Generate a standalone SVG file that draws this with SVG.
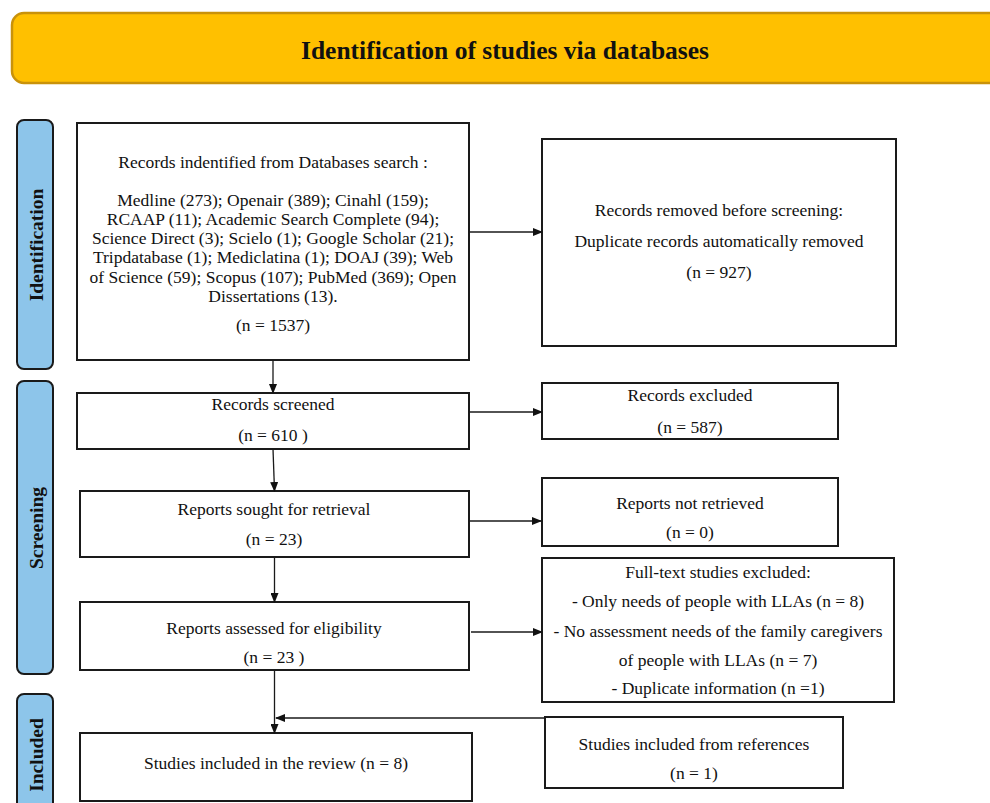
<svg xmlns="http://www.w3.org/2000/svg" width="990" height="803" viewBox="0 0 990 803">
<style>
.box{fill:#fff;stroke:#1a1a1a;stroke-width:2}
.side{fill:#8DC5EA;stroke:#1a1a1a;stroke-width:2}
.t{font-family:"Liberation Serif","Times New Roman",serif;font-size:17.5px;fill:#111;text-anchor:middle;dominant-baseline:central}
.st{font-family:"Liberation Serif","Times New Roman",serif;font-size:19.5px;font-weight:bold;fill:#111;text-anchor:middle;dominant-baseline:central}
.ln{stroke:#1a1a1a;stroke-width:1.3;fill:none}
</style>
<defs>
<marker id="ah" markerWidth="10" markerHeight="8" refX="9" refY="4" orient="auto" markerUnits="userSpaceOnUse">
<path d="M0,0 L10,4 L0,8 Z" fill="#111"/>
</marker>
</defs>
<rect width="990" height="803" fill="#fff"/>
<g id="header">
<rect x="12" y="13" width="1000" height="70" rx="12" fill="#FFC000" stroke="#C9920A" stroke-width="2.5"/>
<text x="505" y="50" class="t" style="font-size:25.5px;font-weight:bold">Identification of studies via databases</text>
</g>
<g id="side-identification">
<rect x="17" y="120" width="36" height="249" rx="7" class="side"/>
<text class="st" transform="translate(36,245) rotate(-90)">Identification</text>
</g>
<g id="side-screening">
<rect x="17" y="381" width="36" height="293" rx="7" class="side"/>
<text class="st" transform="translate(36,528) rotate(-90)">Screening</text>
</g>
<g id="side-included">
<rect x="17" y="694" width="36" height="120" rx="7" class="side"/>
<text class="st" transform="translate(36,755) rotate(-90)">Included</text>
</g>
<g id="records-identified">
<rect x="77" y="123" width="392" height="237" class="box"/>
<text x="273" y="162" class="t">Records indentified from Databases search :</text>
<text x="273" y="200" class="t">Medline (273); Openair (389); Cinahl (159);</text>
<text x="273" y="219" class="t">RCAAP (11); Academic Search Complete (94);</text>
<text x="273" y="238" class="t">Science Direct (3); Scielo (1); Google Scholar (21);</text>
<text x="273" y="257" class="t">Tripdatabase (1); Mediclatina (1); DOAJ (39); Web</text>
<text x="273" y="277" class="t">of Science (59); Scopus (107); PubMed (369); Open</text>
<text x="273" y="296" class="t">Dissertations (13).</text>
<text x="273" y="325" class="t">(n = 1537)</text>
</g>
<g id="records-removed">
<rect x="542" y="139" width="354" height="207" class="box"/>
<text x="719" y="210" class="t">Records removed before screening:</text>
<text x="719" y="241" class="t">Duplicate records automatically removed</text>
<text x="719" y="272" class="t">(n = 927)</text>
</g>
<g id="records-screened">
<rect x="77" y="393" width="392" height="56" class="box"/>
<text x="273" y="404" class="t">Records screened</text>
<text x="273" y="435" class="t">(n = 610 )</text>
</g>
<g id="records-excluded">
<rect x="542" y="383" width="296" height="56" class="box"/>
<text x="690" y="395" class="t">Records excluded</text>
<text x="690" y="427" class="t">(n = 587)</text>
</g>
<g id="reports-sought">
<rect x="80" y="491" width="389" height="66" class="box"/>
<text x="274" y="509" class="t">Reports sought for retrieval</text>
<text x="274" y="539" class="t">(n = 23)</text>
</g>
<g id="reports-not-retrieved">
<rect x="542" y="478" width="296" height="68" class="box"/>
<text x="690" y="503" class="t">Reports not retrieved</text>
<text x="690" y="532" class="t">(n = 0)</text>
</g>
<g id="reports-assessed">
<rect x="80" y="602" width="389" height="68" class="box"/>
<text x="274" y="628" class="t">Reports assessed for eligibility</text>
<text x="274" y="657" class="t">(n = 23 )</text>
</g>
<g id="fulltext-excluded">
<rect x="542" y="558" width="352" height="144" class="box"/>
<text x="718" y="572" class="t">Full-text studies excluded:</text>
<text x="718" y="601" class="t">- Only needs of people with LLAs (n = 8)</text>
<text x="718" y="631" class="t">- No assessment needs of the family caregivers</text>
<text x="718" y="660" class="t">of people with LLAs  (n = 7)</text>
<text x="718" y="688" class="t">- Duplicate information (n =1)</text>
</g>
<g id="studies-included">
<rect x="80" y="733" width="392" height="68" class="box"/>
<text x="276" y="763" class="t">Studies included in the review (n = 8)</text>
</g>
<g id="included-references">
<rect x="545" y="717" width="298" height="71" class="box"/>
<text x="694" y="744" class="t">Studies included from references</text>
<text x="694" y="773" class="t">(n = 1)</text>
</g>
<g id="connectors">
<line x1="469" y1="232" x2="542" y2="232" class="ln" marker-end="url(#ah)"/>
<line x1="273" y1="360" x2="273" y2="393" class="ln" marker-end="url(#ah)"/>
<line x1="469" y1="412" x2="542" y2="412" class="ln" marker-end="url(#ah)"/>
<line x1="273" y1="449" x2="274.5" y2="491" class="ln" marker-end="url(#ah)"/>
<line x1="469" y1="521" x2="541" y2="521" class="ln" marker-end="url(#ah)"/>
<line x1="274.5" y1="557" x2="274.5" y2="602" class="ln" marker-end="url(#ah)"/>
<line x1="471" y1="632" x2="542" y2="632" class="ln" marker-end="url(#ah)"/>
<line x1="274.5" y1="670" x2="274.5" y2="733" class="ln" marker-end="url(#ah)"/>
<line x1="545" y1="718" x2="276" y2="718" class="ln" marker-end="url(#ah)"/>
</g>
</svg>
